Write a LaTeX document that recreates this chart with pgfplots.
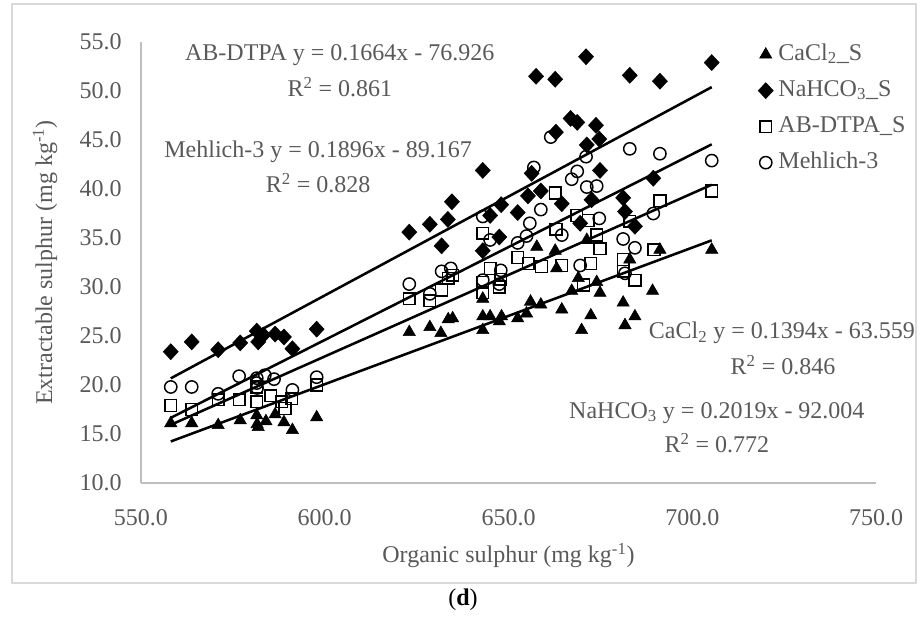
\documentclass[border=0pt]{standalone}
\usepackage{pgfplots}
\pgfplotsset{compat=1.18}
\usepackage{fontspec}
\setmainfont{Liberation Serif}
\definecolor{txt}{HTML}{595959}
\definecolor{axisc}{HTML}{BFBFBF}
\definecolor{framec}{HTML}{D9D9D9}
\newcommand\fs{\fontsize{18}{21}\selectfont}
\begin{document}
\begin{tikzpicture}
\useasboundingbox (0,0) rectangle (691.5pt,-464.25pt);
\draw[framec, line width=0.8pt] (9pt,-3pt) rectangle (687pt,-437.25pt);
\begin{axis}[
  at={(105.75pt,-362.25pt)}, anchor=south west,
  scale only axis, width=551.25pt, height=330.75pt,
  xmin=550, xmax=750, ymin=10, ymax=55,
  xtick={550,600,650,700,750}, ytick={10,15,...,55},
  axis lines=left, axis line style={-, draw=axisc, line width=1pt},
  major tick length=0pt,
  clip=false,
  xticklabel={\pgfmathprintnumber[fixed,fixed zerofill,precision=1,assume math mode=true]{\tick}},
  yticklabel={\pgfmathprintnumber[fixed,fixed zerofill,precision=1,assume math mode=true]{\tick}},
  tick label style={font=\fs, text=txt},
  xticklabel shift=16.5pt, yticklabel shift=11pt,
  xlabel={Organic sulphur (mg kg\textsuperscript{-1})},
  ylabel={Extractable sulphur (mg kg\textsuperscript{-1})},
  label style={font=\fs, text=txt},
  xlabel style={at={(axis description cs:0.5,-0.165)}, anchor=center},
  ylabel style={at={(axis description cs:-0.1306,0.5)}, anchor=center},
  legend style={at={(axis description cs:0.834,1.006)}, anchor=north west, draw=none, fill=none,
    font=\fs, text=txt, row sep=8.5pt, nodes={inner ysep=1pt, text height=12.5pt, text depth=4pt}},
  legend cell align=left,
  legend image code/.code={\draw[#1] plot coordinates {(0pt,0pt)}; \path[draw=none, fill=none] (0pt,0pt) -- (7.5pt,0pt);},
]
% CaCl2_S
\addplot[only marks, mark=triangle*, mark size=5.3pt, draw=black, fill=black] coordinates {
(558.1,16.1) (563.8,16.1) (571.0,15.9) (577.0,16.4) (581.5,16.9) (581.6,16.0) (581.9,15.7)
(584.0,16.3) (586.5,17.0) (588.9,16.2) (591.2,15.4) (597.8,16.7)
(623.0,25.4) (628.6,25.9) (631.6,25.3) (633.6,26.7) (634.8,26.8) (643.0,25.6) (643.0,27.0)
(643.0,28.8) (645.0,27.0) (647.5,26.5) (648.1,27.0) (652.5,26.8) (654.9,27.3) (656.0,28.5)
(657.7,34.1) (658.8,28.2) (662.7,33.7) (663.1,31.9) (664.5,27.7) (667.2,29.6) (669.0,30.9)
(669.9,25.6) (671.3,34.8) (672.4,27.1) (674.0,30.5) (674.9,29.4) (681.2,28.4) (681.7,26.1)
(683.0,32.8) (684.4,27.0) (689.2,29.6) (691.2,33.8) (705.3,33.8)};
\addlegendentry{CaCl\textsubscript{2}\_S}
% NaHCO3_S
\addplot[only marks, mark=diamond*, mark size=6pt, mark options={xscale=1.25}, draw=black, fill=black] coordinates {
(558.1,23.4) (563.8,24.4) (571.0,23.6) (577.0,24.3) (581.5,25.5) (581.9,24.4) (583.3,25.1)
(586.5,25.2) (588.9,24.9) (591.2,23.7) (597.8,25.7)
(623.0,35.6) (628.6,36.4) (631.8,34.2) (633.5,36.9) (634.6,38.7) (643.0,41.9) (643.0,33.7)
(645.0,37.3) (647.5,35.1) (648.0,38.4) (652.5,37.6) (655.3,39.3) (656.3,41.6) (657.5,51.5)
(658.8,39.8) (662.7,51.2) (662.9,45.8) (664.5,38.5) (666.9,47.2) (668.7,46.8) (669.5,36.5)
(671.3,44.5) (671.1,53.5) (672.6,38.9) (673.8,46.5) (674.7,45.1) (674.9,41.9) (681.2,39.1)
(681.7,37.7) (683.0,51.6) (684.4,36.2) (689.4,41.1) (691.2,51.0) (705.3,52.9)};
\addlegendentry{NaHCO\textsubscript{3}\_S}
% AB-DTPA_S
\addplot[only marks, mark=square, mark size=4.4pt, line width=1.1pt, draw=black] coordinates {
(558.1,17.9) (563.8,17.5) (571.0,18.5) (576.7,18.5) (581.5,18.3) (581.5,19.8) (585.3,18.9)
(588.3,18.3) (589.2,17.6) (591.0,18.6) (597.8,20.0)
(623.0,28.8) (628.6,28.6) (631.8,29.7) (633.6,30.9) (634.8,31.2) (643.0,35.5) (643.0,29.4)
(643.0,30.5) (645.0,31.9) (647.5,30.0) (647.9,30.8) (652.5,33.0) (655.4,32.4) (659.0,32.1)
(662.7,39.6) (662.9,35.9) (664.5,32.2) (668.6,37.3) (670.4,30.2) (671.7,36.8) (672.4,32.4)
(674.0,35.3) (674.9,33.9) (681.2,32.8) (681.2,31.6) (683.0,36.7) (684.4,30.7) (689.6,33.8)
(691.2,38.8) (705.3,39.8)};
\addlegendentry{AB-DTPA\_S}
% Mehlich-3
\addplot[only marks, mark=o, mark size=4.6pt, line width=1.1pt, draw=black] coordinates {
(558.1,19.8) (563.8,19.8) (571.0,19.1) (576.7,20.9) (581.5,20.7) (581.5,20.2) (581.6,19.7)
(583.7,21.0) (586.2,20.6) (591.2,19.5) (597.8,20.8)
(623.0,30.3) (628.6,29.3) (631.8,31.6) (634.3,31.9) (643.0,37.2) (643.0,30.7) (645.0,34.8)
(647.9,31.7) (647.5,30.3) (652.5,34.5) (654.9,35.2) (655.8,36.5) (656.9,42.2) (658.8,37.9)
(661.5,45.3) (664.5,35.3) (667.2,41.0) (668.7,41.8) (669.5,32.2) (671.1,43.3) (671.3,40.2)
(674.0,40.3) (674.7,37.0) (681.2,34.9) (681.7,31.4) (683.0,44.1) (684.4,34.0) (689.4,37.5)
(691.2,43.6) (705.3,42.9)};
\addlegendentry{Mehlich-3}
% trend lines (endpoints from the fitted equations)
\addplot[black, line width=1.9pt, forget plot] coordinates {(558.1,20.68) (705.3,50.40)};
\addplot[black, line width=1.9pt, forget plot] coordinates {(558.1,16.65) (705.3,44.56)};
\addplot[black, line width=1.9pt, forget plot] coordinates {(558.1,15.94) (705.3,40.44)};
\addplot[black, line width=1.9pt, forget plot] coordinates {(558.1,14.24) (705.3,34.76)};
% equation labels
\begin{scope}[every node/.style={font=\fs, text=txt, inner sep=0pt}]
\node at (axis cs:604.1,53.67) {AB-DTPA y = 0.1664x - 76.926};
\node at (axis cs:604.1,50.41) {R\textsuperscript{2} = 0.861};
\node at (axis cs:598.2,43.78) {Mehlich-3 y = 0.1896x - 89.167};
\node at (axis cs:598.2,40.61) {R\textsuperscript{2} = 0.828};
\node at (axis cs:724.4,25.31) {CaCl\textsubscript{2} y = 0.1394x - 63.559};
\node at (axis cs:724.7,22.04) {R\textsuperscript{2} = 0.846};
\node at (axis cs:706.7,17.14) {NaHCO\textsubscript{3} y = 0.2019x - 92.004};
\node at (axis cs:706.7,14.08) {R\textsuperscript{2} = 0.772};
\end{scope}
\end{axis}
\node[font=\fs] at (347.25pt,-450pt) {(\textbf{d})};
\end{tikzpicture}
\end{document}
